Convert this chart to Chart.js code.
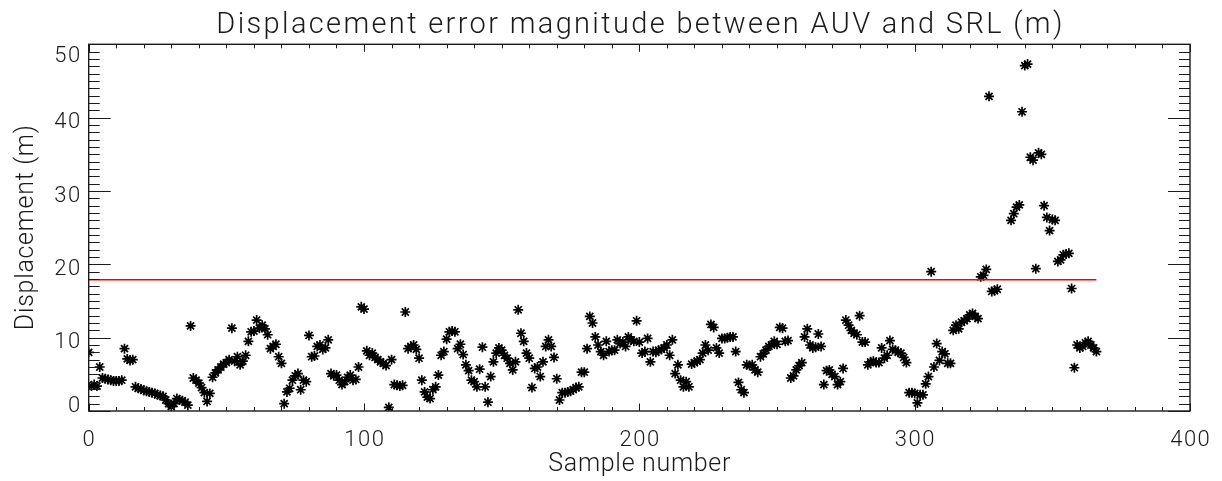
<!DOCTYPE html>
<html>
<head>
<meta charset="utf-8">
<title>Displacement error magnitude</title>
<script src="https://cdn.jsdelivr.net/npm/chart.js@4.4.1/dist/chart.umd.min.js"></script>
<style>
  html, body { margin: 0; padding: 0; background: #ffffff; }
  #wrap { width: 1222px; height: 481px; }
</style>
</head>
<body>
<div id="wrap"><canvas id="chart" width="1222" height="481"></canvas></div>
<script>
const TITLE = "Displacement error magnitude between AUV and SRL (m)";
const X_LABEL = "Sample number";
const Y_LABEL = "Displacement (m)";

const X_TICKS = [0, 100, 200, 300, 400];
const Y_TICKS = [0, 10, 20, 30, 40, 50];
const X_MINOR_STEP = 10;
const Y_MINOR_STEP = 1;

// red reference level and the sample range it spans
const THRESHOLD = 17.9;
const THRESHOLD_SAMPLES = [0, 366];

// one value per sample number (null = no point drawn)
const DISPLACEMENT = [
    8.0, 3.4, 3.6, 3.4, 6.0, 4.5, 4.4, 4.3, 4.2, 4.1,
    4.1, 4.1, 4.2, 8.5, 7.1, 6.9, 7.0, 3.3, 3.1, 3.0,
    2.8, 2.7, 2.6, 2.5, 2.4, 2.2, 2.1, 2.0, 1.5, 1.0,
    0.6, 1.0, 1.7, 1.5, 1.4, 1.2, 0.8, 11.6, 4.5, 4.2,
    3.8, 3.2, 2.5, 1.3, 2.4, 4.6, 5.2, 5.6, 6.0, 6.4,
    6.6, 7.0, 11.3, 6.8, 7.4, 6.3, 6.8, 7.6, 9.5, 10.8,
    10.9, 12.4, 11.3, 11.7, 11.2, 10.4, 8.5, 8.8, 9.1, 7.4,
    6.5, 1.0, 2.6, 3.1, 4.2, 4.8, 5.1, 2.9, 4.2, 4.0,
    10.3, 7.4, 7.5, 8.8, 9.0, 8.4, 8.6, 9.7, 5.1, 4.8,
    4.9, 4.2, 3.6, 4.0, 4.6, 4.9, 4.2, 4.3, 6.0, 14.2,
    13.9, 8.2, 7.6, 7.9, 7.3, 7.0, 6.7, 6.5, 6.2, 0.5,
    7.0, 3.6, 3.5, 3.4, 3.5, 13.5, 8.5, 8.8, 9.0, 8.4,
    7.2, 4.2, 2.6, 1.9, 1.7, 2.9, 3.3, 4.9, 7.6, 8.1,
    9.8, 10.8, 10.9, 10.8, 8.5, 9.1, 7.7, 6.3, 5.5, 4.2,
    4.0, 3.3, 5.7, 8.7, 3.3, 1.2, 4.7, 6.7, 7.9, 8.6,
    8.3, 7.6, 7.2, 6.5, 5.6, 6.7, 13.8, 10.6, 9.5, 7.9,
    7.2, 3.2, 5.8, 6.0, 4.7, 6.7, 8.8, 9.7, 8.8, 7.3,
    4.4, 1.5, 2.5, 2.5, 2.6, 2.7, 2.9, 3.2, 3.3, 5.3,
    5.3, 8.5, 12.9, 12.0, 10.1, 9.0, 8.1, 7.6, 9.5, 8.1,
    8.3, 8.3, 9.7, 9.2, 9.4, 8.8, 10.1, 9.7, 9.5, 12.3,
    9.4, 7.9, 8.1, 9.9, 6.7, 8.1, 8.0, 8.3, 8.4, 8.6,
    9.0, 7.6, 9.7, 5.1, 6.3, 4.2, 3.3, 4.0, 3.3, 6.4,
    6.6, 6.8, 7.0, 7.9, 9.0, 8.3, 11.8, 11.4, 8.6, 7.9,
    9.9, 9.9, 10.0, 10.1, 10.1, 8.1, 3.9, 2.9, 2.5, 6.3,
    6.2, 6.3, 5.6, 5.3, 7.4, 7.8, 8.3, 8.8, 9.0, 9.5,
    9.1, 11.4, 11.3, 9.5, 9.6, 4.5, 4.8, 5.6, 6.2, 6.6,
    10.1, 11.2, 9.0, 8.6, 8.7, 10.5, 8.8, 3.6, 5.5, 5.6,
    5.0, 4.7, 3.6, 4.0, 5.8, 12.4, 11.7, 11.0, 10.6, 10.4,
    13.0, 9.4, 9.4, 6.3, 6.7, 6.8, 6.6, 6.6, 8.6, 7.2,
    7.6, 9.6, 8.4, 8.3, 8.0, 7.9, 7.3, 6.6, 2.5, 2.5,
    2.4, 1.1, 2.2, 2.2, 3.7, 4.7, 19.0, 6.0, 9.2, 6.9,
    8.1, 7.8, 6.5, 6.5, 11.0, 11.7, 11.2, 12.1, 12.3, 12.6,
    13.1, 13.3, 12.9, 12.6, 18.3, 18.5, 19.3, 42.9, 16.3, 16.4,
    16.6, null, null, null, null, 26.0, 26.9, 27.8, 28.1, 40.8,
    47.1, 47.3, 34.6, 34.2, 19.4, 35.2, 35.0, 28.0, 26.4, 24.6,
    26.1, 26.0, 20.4, 20.6, 21.3, 21.4, 21.5, 16.7, 5.9, 9.0,
    8.6, 8.8, 9.3, 9.5, 9.0, 8.6, 8.1,
];

const FONT_FAMILY = "Roboto, 'DejaVu Sans', sans-serif";
const INK = "#1a1a1a";

function drawSpaced(ctx, text, x, y, spacing, align) {
    // canvas letterSpacing also pads after the last glyph, so shift by it
    ctx.letterSpacing = `${spacing}px`;
    ctx.textAlign = align;
    let dx = 0;
    if (align === "center") dx = spacing / 2;
    if (align === "right") dx = spacing;
    ctx.fillText(text, x + dx, y);
    ctx.letterSpacing = "0px";
}

// wide, evenly tracked text like the original plot font
function drawTracked(ctx, text, x, y, width) {
    ctx.letterSpacing = "0px";
    const natural = ctx.measureText(text).width;
    const spacing = Math.max(0, (width - natural) / (text.length - 1));
    drawSpaced(ctx, text, x, y, spacing, "center");
}

function yLabelBaseline(value, px) {
    if (value === Y_TICKS[0]) return px + 0.5;
    if (value === Y_TICKS[Y_TICKS.length - 1]) return px + 17.5;
    return px + 10.7;
}

const idlFrame = {
    id: "idlFrame",
    afterDraw(chart) {
        const { ctx, chartArea: a, scales } = chart;
        const x = scales.x;
        const y = scales.y;
        ctx.save();

        ctx.strokeStyle = INK;
        ctx.lineWidth = 1.4;
        ctx.strokeRect(a.left, a.top, a.right - a.left, a.bottom - a.top);

        ctx.lineWidth = 1;
        ctx.beginPath();
        for (let v = x.min; v <= x.max; v += X_MINOR_STEP) {
            const px = Math.round(x.getPixelForValue(v)) + 0.5;
            const len = X_TICKS.includes(v) ? 7.5 : 4;
            ctx.moveTo(px, a.bottom);
            ctx.lineTo(px, a.bottom - len);
            ctx.moveTo(px, a.top);
            ctx.lineTo(px, a.top + len);
        }
        for (let v = y.min; v <= y.max; v += Y_MINOR_STEP) {
            const py = Math.round(y.getPixelForValue(v)) + 0.5;
            const len = v % 10 === 0 ? 22 : 11;
            ctx.moveTo(a.left, py);
            ctx.lineTo(a.left + len, py);
            ctx.moveTo(a.right, py);
            ctx.lineTo(a.right - len, py);
        }
        ctx.stroke();

        ctx.fillStyle = INK;
        ctx.textBaseline = "alphabetic";

        ctx.font = `300 22px ${FONT_FAMILY}`;
        X_TICKS.forEach((v) => {
            drawSpaced(ctx, String(v), x.getPixelForValue(v), a.bottom + 34.5, 1.5, "center");
        });
        Y_TICKS.forEach((v) => {
            const py = y.getPixelForValue(v);
            drawSpaced(ctx, String(v), a.left - 8.5, yLabelBaseline(v, py), 1.5, "right");
        });

        const midX = (a.left + a.right) / 2;
        ctx.font = `300 25px ${FONT_FAMILY}`;
        drawTracked(ctx, X_LABEL, midX, 470.5, 182);

        ctx.save();
        ctx.translate(33, (a.top + a.bottom) / 2);
        ctx.rotate(-Math.PI / 2);
        drawTracked(ctx, Y_LABEL, 0, 0, 205);
        ctx.restore();

        ctx.font = `300 29px ${FONT_FAMILY}`;
        drawTracked(ctx, TITLE, midX, 32.5, 846);

        ctx.restore();
    },
};

const points = DISPLACEMENT
    .map((value, sample) => ({ x: sample, y: value }))
    .filter((p) => p.y !== null);

new Chart(document.getElementById("chart"), {
    type: "scatter",
    data: {
        datasets: [
            {
                label: "threshold",
                type: "line",
                data: THRESHOLD_SAMPLES.map((s) => ({ x: s, y: THRESHOLD })),
                borderColor: "#ff0000",
                borderWidth: 1.5,
                pointRadius: 0,
                fill: false,
                clip: 0,
            },
            {
                label: "displacement",
                data: points,
                pointStyle: "star",
                pointRadius: 5,
                borderWidth: 1.7,
                borderColor: "#000000",
                backgroundColor: "#000000",
                clip: 0,
            },
        ],
    },
    options: {
        responsive: false,
        animation: false,
        devicePixelRatio: 1,
        events: [],
        layout: { padding: { left: 88.7, right: 32, top: 44.3, bottom: 70 } },
        plugins: {
            legend: { display: false },
            tooltip: { enabled: false },
            title: { display: false },
        },
        scales: {
            x: { type: "linear", min: 0, max: 400, display: false },
            y: { type: "linear", min: 0, max: 50, display: false },
        },
    },
    plugins: [idlFrame],
});
</script>
</body>
</html>
